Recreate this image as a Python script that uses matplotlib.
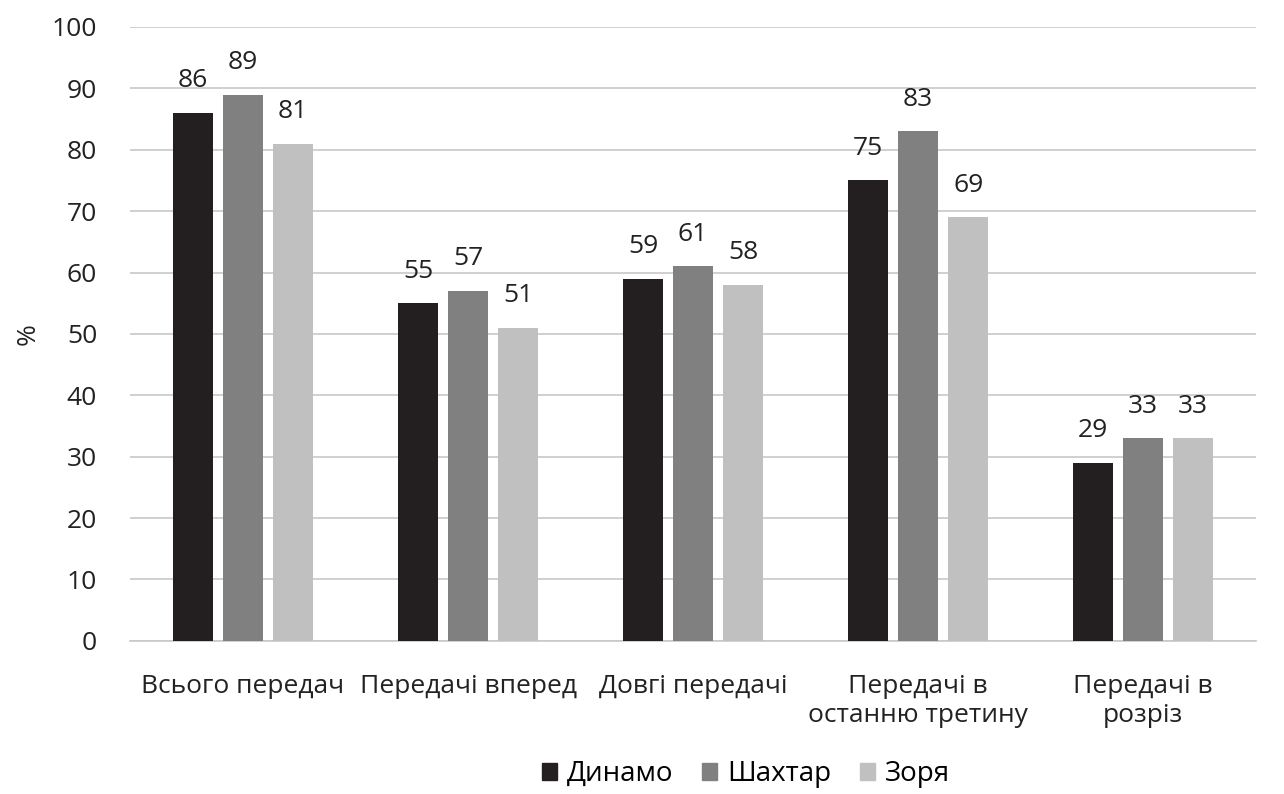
import numpy as np
import matplotlib.pyplot as plt
from matplotlib.patches import Patch

categories = ['Всього передач', 'Передачі вперед', 'Довгі передачі',
              'Передачі в\nостанню третину', 'Передачі в\nрозріз']
teams = ['Динамо', 'Шахтар', 'Зоря']
dynamo = [86, 55, 59, 75, 29]
shakhtar = [89, 57, 61, 83, 33]
zorya = [81, 51, 58, 69, 33]

colors = ['#231f20', '#808080', '#c0c0c0']

plt.rcParams['font.family'] = ['Open Sans', 'DejaVu Sans']

fig = plt.figure(figsize=(12.84, 7.94), dpi=100)
ax = fig.add_axes([0.1016, 0.193, 0.8764, 0.773])

x = np.arange(len(categories))
width = 0.178
offset = 0.222
for i, (vals, c) in enumerate(zip([dynamo, shakhtar, zorya], colors)):
    pos = x + (i - 1) * offset
    ax.bar(pos, vals, width=width, color=c, zorder=3)
    for p, v in zip(pos, vals):
        ax.text(p, v + 3.2, str(v), ha='center', va='bottom', fontsize=19, color='#222222')

ax.set_xlim(-0.5, len(categories) - 0.5)
ax.set_ylim(0, 100)
ax.set_yticks(range(0, 101, 10))
ax.yaxis.grid(True, color='#c8c8c8', linewidth=1.2, zorder=0)
ax.set_xticks(x)
ax.set_xticklabels(categories, fontsize=19, color='#222222')
ax.tick_params(axis='y', labelsize=19, colors='#222222', length=0, pad=24)
ax.tick_params(axis='x', length=0, pad=24)
for s in ['top', 'right', 'left']:
    ax.spines[s].set_visible(False)
ax.spines['bottom'].set_color('#c8c8c8')
ax.spines['bottom'].set_linewidth(1.2)

ax.set_ylabel('%', fontsize=19, color='#222222', labelpad=8)

handles = [Patch(color=c, label=t) for c, t in zip(colors, teams)]
fig.legend(handles=handles, loc='lower center', ncol=3, frameon=False,
           fontsize=20, handlelength=0.54, handleheight=0.54, handletextpad=0.36,
           columnspacing=1.04, bbox_to_anchor=(0.581, -0.024))

fig.savefig('out.png', dpi=100)
